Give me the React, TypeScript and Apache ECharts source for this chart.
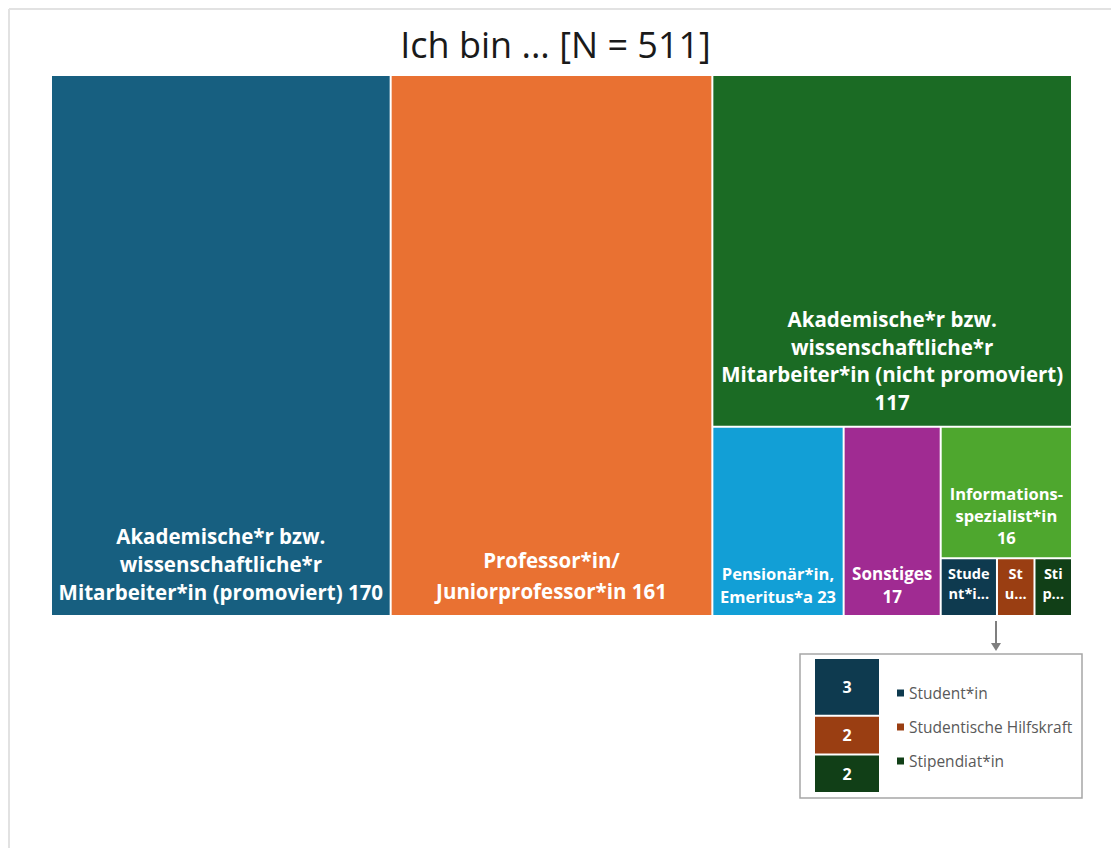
import React, { useEffect, useRef } from "react";
import * as echarts from "echarts";

const title = "Ich bin ... [N = 511]";

const categories = [
  "Akademische*r bzw. wissenschaftliche*r Mitarbeiter*in (promoviert)",
  "Professor*in/Juniorprofessor*in",
  "Akademische*r bzw. wissenschaftliche*r Mitarbeiter*in (nicht promoviert)",
  "Pensionär*in, Emeritus*a",
  "Sonstiges",
  "Informations-spezialist*in",
  "Student*in",
  "Studentische Hilfskraft",
  "Stipendiat*in",
];
const values = [170, 161, 117, 23, 17, 16, 3, 2, 2];
const tileLabels = [
  "Akademische*r bzw.\nwissenschaftliche*r\nMitarbeiter*in (promoviert) 170",
  "Professor*in/\nJuniorprofessor*in 161",
  "Akademische*r bzw.\nwissenschaftliche*r\nMitarbeiter*in (nicht promoviert)\n117",
  "Pensionär*in,\nEmeritus*a 23",
  "Sonstiges\n17",
  "Informations-\nspezialist*in\n16",
  "Stude\nnt*i...",
  "St\nu...",
  "Sti\np...",
];
const colors = [
  "#175f80",
  "#e97132",
  "#1b6b24",
  "#129fd6",
  "#a02b92",
  "#4ea72e",
  "#0e3a4f",
  "#9a3e12",
  "#113f17",
];
const labelSizes = [20.5, 20.5, 20.5, 16.5, 17, 16.5, 14.5, 14.5, 14.5];
const lineHeights = [28, 31, 27.5, 23, 23, 22, 20, 20, 20];
const labelDistances = [4, 4, 5, 2.5, 2.5, 4, 7, 7, 7];

// inset detail (small categories)
const insetCategories = ["Student*in", "Studentische Hilfskraft", "Stipendiat*in"];
const insetValues = [3, 2, 2];
const insetColors = ["#0e3a4f", "#9a3e12", "#113f17"];

export default function App() {
  const ref = useRef<HTMLDivElement>(null);
  useEffect(() => {
    if (!ref.current) return;
    const chart = echarts.init(ref.current, null, { renderer: "svg" });
    const font = "'Open Sans', 'Noto Sans', sans-serif";

    const mainData = categories.map((name, i) => ({
      name,
      value: values[i],
      itemStyle: { color: colors[i] },
      label: {
        formatter: tileLabels[i],
        fontSize: labelSizes[i],
        lineHeight: lineHeights[i],
        distance: labelDistances[i],
      },
    }));

    const insetData = insetCategories.map((name, i) => ({
      name,
      value: insetValues[i],
      itemStyle: { color: insetColors[i] },
      label: {
        formatter: String(insetValues[i]),
        fontSize: 16,
        fontWeight: "bold",
        color: "#ffffff",
      },
    }));

    const legendGraphics: any[] = [];
    insetCategories.forEach((name, i) => {
      const cy = 693 + i * 34;
      legendGraphics.push({
        type: "rect",
        shape: { x: 897, y: cy - 3.5, width: 7, height: 7 },
        style: { fill: insetColors[i] },
      });
      legendGraphics.push({
        type: "text",
        x: 909,
        y: cy,
        style: {
          text: name,
          fill: "#595959",
          font: `15.5px ${font}`,
          verticalAlign: "middle",
          align: "left",
        },
      });
    });

    chart.setOption({
      animation: false,
      backgroundColor: "#ffffff",
      title: {
        text: title,
        left: "center",
        top: 21,
        textStyle: {
          fontSize: 36,
          fontWeight: "normal",
          color: "#1a1a1a",
          fontFamily: font,
        },
      },
      graphic: [
        {
          type: "line",
          shape: { x1: 9, y1: 9, x2: 1111, y2: 9 },
          style: { stroke: "#e2e2e2", lineWidth: 2 },
        },
        {
          type: "line",
          shape: { x1: 9, y1: 9, x2: 9, y2: 848 },
          style: { stroke: "#e2e2e2", lineWidth: 2 },
        },
        {
          type: "rect",
          shape: { x: 800, y: 654, width: 282, height: 144 },
          style: { fill: "none", stroke: "#a6a6a6", lineWidth: 1.5 },
        },
        {
          type: "line",
          shape: { x1: 996, y1: 621, x2: 996, y2: 644 },
          style: { stroke: "#7f7f7f", lineWidth: 2 },
        },
        {
          type: "polygon",
          shape: { points: [[991, 643], [1001, 643], [996, 651]] },
          style: { fill: "#7f7f7f" },
        },
        ...legendGraphics,
      ],
      series: [
        {
          type: "treemap",
          left: 52,
          top: 76,
          width: 1019,
          height: 539,
          roam: false,
          nodeClick: false,
          sort: false,
          breadcrumb: { show: false },
          squareRatio: 1,
          label: {
            show: true,
            position: "insideBottom",
            color: "#ffffff",
            fontWeight: "bold",
            fontFamily: font,
            align: "center",
            overflow: "none",
          },
          itemStyle: { borderWidth: 0, gapWidth: 2 },
          levels: [
            { itemStyle: { borderWidth: 0, gapWidth: 2 } },
            { itemStyle: { borderWidth: 0 } },
          ],
          data: mainData,
        },
        {
          type: "treemap",
          left: 815,
          top: 659,
          width: 64,
          height: 133,
          roam: false,
          nodeClick: false,
          sort: false,
          breadcrumb: { show: false },
          squareRatio: 1,
          label: {
            show: true,
            position: "inside",
            color: "#ffffff",
            fontWeight: "bold",
            fontSize: 16,
            fontFamily: font,
            overflow: "none",
          },
          levels: [
            { itemStyle: { borderWidth: 0, gapWidth: 2 } },
            { itemStyle: { borderWidth: 0 } },
          ],
          data: insetData,
        },
      ],
    });
    return () => chart.dispose();
  }, []);
  return (
    <div
      ref={ref}
      style={{ position: "fixed", left: 0, top: 0, width: 1111, height: 848 }}
    />
  );
}
